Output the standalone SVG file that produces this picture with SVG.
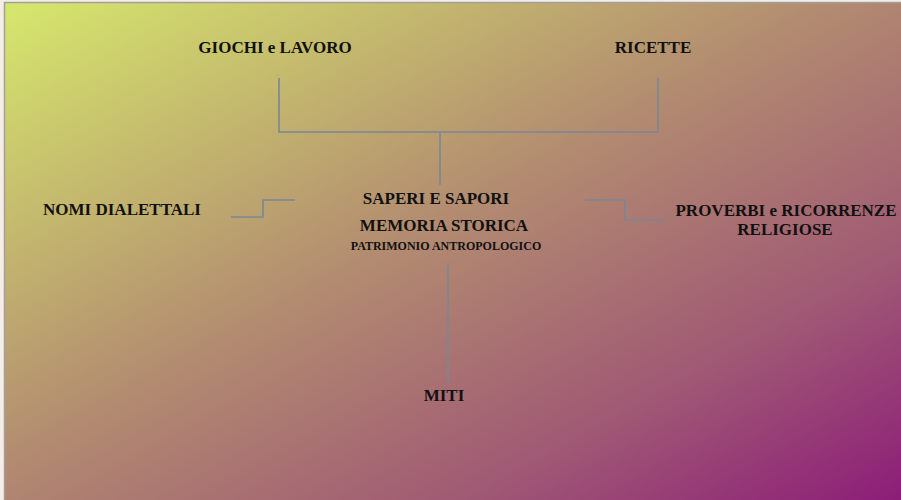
<svg xmlns="http://www.w3.org/2000/svg" width="901" height="500" viewBox="0 0 901 500">
<defs>
<linearGradient id="bg" x1="0" y1="0" x2="1" y2="1">
<stop offset="0" stop-color="#d6e86c"/>
<stop offset="0.45" stop-color="#b38d70"/>
<stop offset="0.75" stop-color="#a05a74"/>
<stop offset="1" stop-color="#8c1c78"/>
</linearGradient>
<style>
text{font-family:"Liberation Serif","Times New Roman",serif;font-weight:bold;fill:#111;text-anchor:middle}
.t{font-size:17px}
.s{font-size:12px}
.c{fill:none;stroke:#7a8796;stroke-width:1.6}
</style>
</defs>
<rect x="0" y="0" width="901" height="500" fill="#f6eee6"/>
<rect x="4.5" y="2.5" width="900" height="500" fill="url(#bg)" stroke="#a0a0a0" stroke-width="1.5"/>
<g id="connectors">
<path class="c" d="M279 78V132H658V78M440 132V185"/>
<path class="c" d="M231 217H263V200H295"/>
<path class="c" d="M585 200H625V220H665"/>
<path class="c" d="M448 265V382"/>
</g>
<g id="giochi"><text class="t" x="275" y="53">GIOCHI e LAVORO</text></g>
<g id="ricette"><text class="t" x="653" y="53">RICETTE</text></g>
<g id="nomi"><text class="t" x="122" y="215">NOMI DIALETTALI</text></g>
<g id="centro">
<text class="t" x="436" y="204">SAPERI E SAPORI</text>
<text class="t" x="444" y="231">MEMORIA STORICA</text>
<text class="s" x="446" y="250">PATRIMONIO ANTROPOLOGICO</text>
</g>
<g id="proverbi">
<text class="t" x="786" y="216">PROVERBI e RICORRENZE</text>
<text class="t" x="785" y="235">RELIGIOSE</text>
</g>
<g id="miti"><text class="t" x="444" y="401">MITI</text></g>
</svg>
